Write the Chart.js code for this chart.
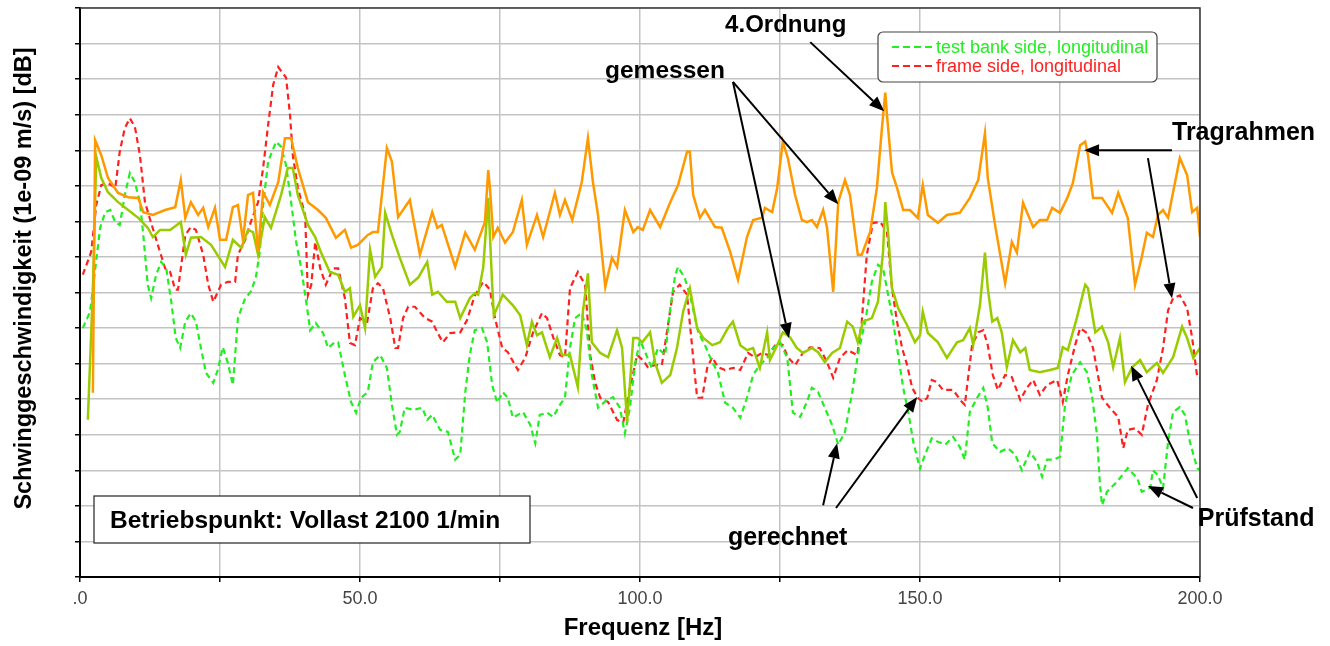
<!DOCTYPE html>
<html>
<head>
<meta charset="utf-8">
<script src="https://cdn.jsdelivr.net/npm/chart.js@4.4.1/dist/chart.umd.min.js"></script>
<style>
  html, body { margin: 0; padding: 0; background: #fff; }
  #wrap { width: 1330px; height: 646px; position: relative; }
</style>
</head>
<body>
<div id="wrap"><canvas id="chart"></canvas></div>
<script>
// ---- Tragrahmen, gemessen (orange) ----
const freqTragrahmen = [2.3, 2.7, 3.8, 5.0, 6.8, 8.6, 10.4, 11.3, 13.0, 15.2,
  17.0, 18.0, 18.8, 19.8, 21.1, 22.0, 22.9, 24.1, 25.0, 26.1,
  27.3, 28.2, 29.1, 30.0, 30.9, 31.8, 32.7, 33.9, 35.4, 36.6,
  37.7, 38.9, 40.7, 42.5, 43.9, 45.7, 47.3, 48.4, 49.6, 51.4,
  52.3, 53.2, 54.8, 55.7, 56.8, 58.9, 60.7, 62.9, 63.8, 64.6,
  67.0, 68.8, 70.5, 72.3, 72.9, 73.2, 73.8, 74.6, 75.9, 77.3,
  78.9, 79.8, 81.6, 82.7, 84.8, 85.7, 86.6, 87.9, 89.6, 90.7,
  91.6, 92.5, 93.8, 95.0, 95.9, 97.3, 98.8, 99.6, 100.5, 101.8,
  103.6, 105.4, 106.8, 108.4, 108.9, 109.5, 110.7, 111.6, 113.4, 114.6,
  116.1, 117.5, 119.1, 120.2, 121.8, 122.3, 123.6, 124.5, 125.5, 126.4,
  127.7, 128.9, 129.8, 130.7, 131.6, 132.7, 133.4, 134.5, 135.4, 136.6,
  137.5, 138.9, 139.6, 141.1, 142.3, 143.2, 143.8, 144.1, 145.0, 145.9,
  147.0, 148.2, 149.6, 150.5, 151.4, 153.2, 154.8, 157.1, 158.9, 160.4,
  161.6, 162.1, 163.4, 165.2, 166.4, 167.3, 168.4, 170.2, 171.4, 172.7,
  173.6, 175.0, 176.3, 177.3, 178.6, 179.5, 180.0, 180.9, 182.5, 184.3,
  185.4, 187.1, 188.4, 189.6, 190.5, 191.6, 192.5, 193.4, 194.3, 196.4,
  197.7, 198.6, 199.5, 200];
const levelTragrahmen = [25.9, 61.4, 59.3, 56.1, 54.0, 53.4, 53.3, 51.3, 50.9, 51.6,
  52.0, 55.8, 50.5, 52.7, 50.9, 51.9, 49.2, 51.9, 47.4, 47.4,
  52.0, 52.3, 47.4, 53.7, 54.0, 45.7, 54.1, 52.3, 55.5, 61.7,
  61.7, 57.5, 52.7, 51.6, 50.5, 47.7, 48.8, 46.3, 46.7, 48.1,
  48.5, 48.5, 60.3, 58.4, 50.6, 53.0, 45.3, 51.3, 49.1, 49.5,
  43.6, 48.4, 46.0, 49.9, 57.2, 54.7, 47.8, 49.1, 47.0, 48.5,
  53.0, 46.7, 50.9, 47.8, 54.0, 50.9, 53.0, 50.2, 55.5, 61.7,
  55.5, 50.9, 40.8, 44.9, 43.6, 51.6, 48.5, 49.2, 48.8, 51.6,
  49.2, 52.7, 55.1, 59.8, 59.8, 53.7, 50.5, 51.6, 49.2, 49.1,
  45.7, 41.8, 47.8, 50.2, 50.5, 51.9, 51.3, 54.7, 61.2, 58.9,
  53.7, 50.2, 49.9, 50.2, 49.2, 51.6, 49.1, 40.1, 52.7, 55.8,
  53.7, 45.3, 45.3, 48.5, 54.7, 63.1, 68.1, 65.0, 56.9, 54.7,
  51.6, 51.6, 50.5, 55.1, 50.9, 49.8, 50.9, 51.2, 53.3, 55.8,
  62.4, 56.1, 49.5, 41.3, 47.1, 45.6, 52.6, 49.2, 50.2, 50.2,
  51.9, 51.2, 53.3, 55.4, 60.7, 61.2, 59.3, 53.3, 53.3, 51.2,
  54.0, 50.5, 41.1, 45.0, 48.4, 47.8, 50.9, 51.6, 50.5, 58.9,
  56.5, 51.3, 51.9, 47.8];

// ---- Pruefstand, gemessen (olive) ----
const freqPruefstand = [1.4, 2.0, 2.3, 2.7, 2.9, 3.8, 5.0, 6.8, 8.6, 10.4,
  12.1, 13.0, 14.3, 16.1, 18.0, 18.9, 19.8, 21.6, 23.4, 25.9,
  27.3, 28.8, 30.0, 30.9, 31.8, 33.0, 34.1, 35.9, 37.1, 38.0,
  38.9, 40.7, 42.0, 43.0, 44.6, 46.1, 47.3, 48.2, 48.8, 50.0,
  50.9, 51.8, 52.7, 53.9, 54.5, 55.7, 57.1, 58.9, 60.4, 62.0,
  62.9, 63.9, 65.5, 67.0, 67.9, 69.6, 70.5, 71.1, 72.0, 72.9,
  73.6, 73.9, 75.5, 77.3, 78.6, 79.8, 80.7, 81.6, 82.5, 83.9,
  85.2, 86.1, 87.5, 88.9, 89.8, 90.7, 91.4, 92.9, 94.3, 95.9,
  96.8, 97.7, 98.8, 99.6, 100.4, 101.8, 102.7, 103.9, 105.4, 106.6,
  107.7, 108.9, 110.2, 111.3, 112.9, 114.3, 115.7, 116.6, 117.9, 119.1,
  120.2, 121.4, 122.7, 123.2, 124.5, 125.5, 126.8, 128.0, 129.1, 130.7,
  131.8, 133.0, 134.3, 135.7, 137.0, 138.0, 138.9, 139.8, 141.4, 142.5,
  143.4, 143.8, 144.3, 145.0, 146.1, 147.7, 149.1, 150.0, 150.5, 151.4,
  153.2, 154.8, 156.6, 157.7, 158.9, 159.5, 160.7, 161.6, 162.1, 162.9,
  163.8, 164.6, 165.5, 166.6, 167.9, 168.8, 169.6, 171.4, 173.2, 174.6,
  175.5, 176.4, 178.0, 179.5, 180.0, 181.3, 182.5, 183.6, 184.5, 185.7,
  186.6, 187.9, 189.3, 190.5, 192.3, 193.4, 195.2, 196.8, 197.7, 198.8,
  200];
const levelPruefstand = [22.1, 34.4, 40.6, 52.7, 59.1, 56.1, 54.1, 52.7, 51.6, 50.5,
  49.1, 47.8, 48.8, 48.8, 49.9, 45.3, 47.7, 47.8, 46.7, 43.6,
  47.4, 46.3, 48.8, 48.5, 45.3, 50.6, 49.1, 53.7, 57.5, 57.5,
  53.7, 49.5, 47.8, 45.7, 42.9, 42.5, 40.1, 40.6, 36.6, 38.2,
  35.0, 46.0, 42.2, 43.6, 51.2, 48.1, 44.9, 41.1, 42.1, 44.3,
  39.7, 40.1, 38.7, 38.7, 36.4, 39.2, 39.9, 39.7, 43.5, 53.3,
  41.1, 36.8, 39.7, 38.2, 36.8, 32.6, 35.9, 34.0, 34.4, 30.9,
  33.6, 31.2, 31.2, 26.7, 37.3, 42.7, 33.0, 31.5, 30.9, 34.7,
  32.2, 21.8, 33.6, 33.6, 33.0, 34.4, 30.1, 27.3, 28.4, 32.2,
  37.3, 40.6, 35.0, 33.6, 32.6, 33.0, 35.0, 35.9, 32.6, 31.9,
  32.2, 29.4, 34.4, 30.5, 32.6, 34.4, 33.7, 32.2, 31.5, 32.2,
  31.6, 30.2, 31.5, 32.2, 35.9, 35.2, 33.0, 35.9, 36.4, 38.7,
  45.7, 52.7, 48.5, 40.6, 37.8, 35.4, 33.0, 34.0, 37.3, 34.3,
  33.0, 30.8, 33.0, 33.3, 35.0, 32.6, 38.2, 45.6, 40.6, 35.9,
  36.4, 34.4, 29.5, 33.3, 31.6, 32.2, 29.1, 28.8, 29.1, 29.4,
  32.3, 31.9, 36.4, 41.1, 40.6, 34.4, 35.2, 33.0, 29.5, 33.6,
  27.4, 29.5, 30.5, 28.8, 30.1, 28.7, 30.9, 35.2, 33.6, 30.8,
  32.2];

// ---- frame side, longitudinal (gerechnet, red dashed) ----
const freqFrame = [0.5, 2.0, 2.9, 3.8, 5.0, 6.3, 7.1, 8.0, 8.9, 9.8,
  10.7, 11.6, 12.7, 13.9, 15.2, 16.1, 17.0, 17.5, 18.8, 19.8,
  20.7, 22.0, 22.9, 23.8, 25.2, 26.4, 27.7, 28.2, 29.5, 30.5,
  31.8, 32.7, 33.6, 34.5, 35.4, 36.8, 37.5, 38.0, 38.9, 40.2,
  40.7, 41.3, 42.0, 42.9, 43.9, 45.2, 46.1, 47.3, 48.2, 49.1,
  50.0, 51.3, 52.3, 53.2, 54.1, 55.4, 56.3, 56.8, 57.7, 58.6,
  59.8, 61.6, 62.9, 63.8, 64.8, 66.1, 67.9, 69.1, 70.5, 72.0,
  73.2, 74.1, 75.4, 76.4, 78.2, 79.5, 80.9, 82.5, 83.4, 84.5,
  85.7, 86.6, 87.5, 88.9, 90.2, 91.1, 92.0, 92.9, 94.3, 95.9,
  97.0, 98.2, 99.5, 100.5, 101.4, 102.7, 103.9, 105.0, 105.9, 107.1,
  108.4, 109.5, 110.2, 111.1, 112.0, 112.9, 113.9, 115.2, 116.6, 117.9,
  119.3, 120.5, 121.8, 122.9, 124.5, 125.5, 126.4, 127.7, 129.1, 130.4,
  132.1, 133.4, 134.5, 135.7, 137.1, 138.8, 139.6, 140.5, 141.6, 142.9,
  144.1, 145.0, 145.9, 146.8, 147.7, 148.6, 149.6, 150.5, 151.3, 152.1,
  153.0, 154.1, 155.9, 157.5, 158.0, 159.3, 160.4, 161.3, 162.1, 163.0,
  163.9, 165.2, 166.4, 167.9, 169.1, 170.2, 171.4, 172.7, 174.5, 175.5,
  176.4, 177.7, 178.6, 179.8, 180.9, 182.5, 183.9, 185.4, 186.3, 187.1,
  188.4, 189.6, 190.7, 192.3, 193.4, 194.3, 195.2, 196.4, 197.7, 198.6,
  199.5, 200];
const levelFrame = [42.5, 45.7, 52.3, 55.1, 55.4, 54.7, 59.8, 63.1, 64.5, 63.3,
  59.3, 52.7, 49.8, 46.7, 43.4, 42.9, 40.4, 40.4, 48.1, 49.2,
  48.8, 45.3, 41.1, 38.7, 41.1, 41.5, 41.5, 45.3, 47.4, 49.9,
  52.7, 57.5, 63.6, 69.2, 71.7, 70.2, 65.0, 59.3, 54.7, 50.9,
  39.6, 41.1, 47.1, 43.4, 41.1, 43.4, 43.4, 39.2, 32.9, 32.6,
  36.4, 35.9, 40.6, 41.3, 40.6, 36.4, 32.2, 32.2, 36.4, 38.0,
  38.0, 36.4, 35.9, 34.4, 33.0, 34.3, 34.4, 36.1, 39.6, 41.5,
  40.4, 36.4, 32.2, 31.6, 29.1, 30.8, 34.4, 37.1, 36.4, 33.7,
  31.2, 30.9, 40.6, 42.9, 41.1, 31.2, 27.3, 25.2, 24.6, 22.1,
  21.7, 26.6, 31.2, 30.5, 29.5, 29.8, 29.8, 35.4, 40.1, 41.1,
  39.7, 30.8, 25.2, 25.2, 29.4, 30.9, 29.5, 29.1, 29.4, 29.1,
  31.5, 30.9, 31.5, 31.2, 33.0, 32.6, 30.9, 29.8, 31.5, 32.3,
  32.2, 30.2, 28.0, 30.8, 31.9, 31.2, 35.9, 45.3, 49.8, 49.9,
  48.5, 40.6, 35.9, 32.2, 29.8, 26.6, 25.2, 24.6, 25.2, 27.7,
  27.4, 26.3, 26.3, 24.6, 24.2, 32.6, 34.4, 34.7, 32.6, 28.4,
  26.3, 28.4, 28.1, 24.9, 26.6, 27.7, 25.6, 27.0, 27.7, 24.6,
  28.4, 32.6, 35.0, 34.3, 32.2, 25.2, 23.8, 22.5, 18.1, 20.7,
  20.9, 20.0, 24.2, 27.7, 32.2, 37.5, 39.2, 39.6, 37.8, 33.6,
  28.1, 28.0];

// ---- test bank side, longitudinal (gerechnet, green dashed) ----
const freqTestBank = [0.5, 1.8, 2.3, 3.6, 4.5, 5.4, 6.3, 7.1, 8.0, 8.9,
  9.8, 10.7, 11.3, 12.1, 12.7, 13.6, 14.5, 15.4, 16.3, 17.1,
  17.9, 18.8, 19.8, 20.7, 21.6, 22.5, 23.8, 24.6, 25.5, 26.4,
  27.3, 28.2, 29.5, 30.5, 31.4, 32.1, 32.7, 33.6, 35.0, 35.9,
  36.8, 37.7, 38.6, 39.5, 40.4, 41.1, 42.1, 43.4, 44.3, 45.5,
  46.1, 47.3, 48.4, 49.3, 50.2, 51.4, 52.3, 53.6, 54.8, 55.7,
  56.6, 57.1, 58.0, 59.5, 61.1, 62.0, 62.9, 64.3, 65.7, 67.0,
  67.9, 68.8, 69.6, 70.5, 71.8, 72.7, 73.6, 74.5, 75.5, 76.4,
  77.3, 79.1, 80.4, 81.3, 82.1, 83.4, 84.5, 85.7, 86.6, 87.5,
  88.4, 89.6, 90.5, 91.4, 92.5, 94.1, 95.2, 96.4, 97.3, 98.2,
  99.1, 100.0, 101.3, 102.1, 103.2, 104.5, 105.4, 106.3, 106.8, 108.0,
  108.9, 110.4, 111.6, 112.9, 113.9, 115.2, 116.6, 117.9, 119.1, 120.2,
  121.4, 122.7, 123.8, 125.0, 126.3, 127.3, 128.6, 129.8, 130.7, 131.8,
  133.0, 134.3, 135.4, 136.6, 137.9, 138.9, 140.2, 141.4, 142.5, 143.4,
  144.3, 145.2, 146.1, 147.0, 147.9, 148.8, 150.0, 150.9, 152.1, 153.2,
  154.5, 155.9, 157.1, 158.0, 158.9, 160.2, 161.3, 162.1, 162.9, 164.3,
  165.7, 167.0, 168.2, 169.6, 170.9, 171.8, 172.7, 173.8, 175.0, 175.9,
  177.1, 178.6, 179.8, 180.7, 181.6, 182.1, 182.5, 183.4, 185.2, 187.1,
  188.8, 189.6, 191.1, 191.6, 192.5, 193.4, 194.3, 195.2, 196.4, 197.3,
  198.2, 199.5, 200];
const levelTestBank = [35.0, 37.3, 40.6, 49.1, 51.3, 51.6, 49.9, 49.5, 53.7, 56.8,
  55.5, 52.7, 48.1, 41.1, 39.2, 42.5, 44.3, 43.4, 38.7, 33.6,
  32.2, 35.9, 37.1, 35.9, 32.2, 28.7, 27.3, 29.1, 32.3, 30.1,
  27.0, 36.4, 39.2, 40.1, 42.1, 45.7, 52.3, 58.4, 61.2, 60.5,
  57.9, 52.7, 47.1, 43.4, 38.7, 34.7, 35.7, 34.3, 32.2, 33.0,
  33.0, 28.4, 24.6, 23.1, 25.2, 26.0, 30.2, 31.2, 29.4, 24.2,
  20.0, 20.4, 23.8, 23.5, 23.8, 22.1, 22.8, 20.7, 20.4, 16.5,
  17.2, 26.0, 31.2, 34.7, 35.0, 33.0, 27.0, 24.5, 26.0, 25.2,
  22.4, 23.2, 21.4, 18.8, 22.8, 23.1, 22.5, 24.2, 25.2, 32.2,
  36.4, 37.1, 34.7, 28.4, 23.8, 24.9, 25.3, 23.8, 20.2, 23.8,
  29.8, 33.3, 30.9, 29.4, 32.2, 31.2, 37.8, 42.5, 43.6, 42.0,
  39.7, 34.4, 32.6, 30.2, 28.8, 24.5, 23.8, 22.4, 25.2, 28.4,
  29.8, 30.8, 32.2, 33.0, 30.8, 23.1, 22.5, 24.6, 26.6, 26.0,
  23.8, 21.4, 18.6, 20.4, 26.0, 31.2, 35.9, 41.5, 43.9, 43.4,
  39.7, 35.9, 31.2, 26.6, 23.2, 19.0, 15.2, 17.2, 19.5, 19.0,
  18.6, 19.7, 18.3, 16.5, 23.2, 25.2, 26.6, 23.8, 18.8, 17.6,
  18.1, 17.2, 15.0, 17.6, 16.2, 14.1, 16.5, 16.5, 16.9, 24.2,
  28.4, 30.2, 28.8, 25.6, 20.0, 13.4, 10.1, 12.0, 13.4, 15.3,
  13.9, 12.0, 12.5, 15.0, 14.3, 12.5, 19.0, 23.2, 23.9, 22.8,
  19.0, 15.3, 15.0];

const seriesNames = ["Tragrahmen, gemessen", "Prüfstand, gemessen",
  "test bank side, longitudinal", "frame side, longitudinal"];
const xTickLabels = [".0", "50.0", "100.0", "150.0", "200.0"];

// Beschriftungen (Frequenz, Pegel)
const notes = [
  { text: "4.Ordnung", f: 115.2, db: 77.6, size: 24 },
  { text: "gemessen", f: 93.75, db: 71.1, size: 24.5 },
  { text: "gerechnet", f: 115.7, db: 5.5, size: 25 },
  { text: "Tragrahmen", f: 195.0, db: 62.4, size: 25 },
  { text: "Prüfstand", f: 199.6, db: 8.2, size: 25 }
];
const arrows = [
  [130.4, 75.2, 143.6, 65.5],
  [116.6, 69.6, 135.4, 52.4],
  [116.6, 69.6, 126.6, 33.6],
  [132.7, 10.1, 135.2, 18.8],
  [135.0, 9.7, 149.5, 25.3],
  [195.0, 60.0, 179.3, 60.0],
  [190.7, 58.9, 195.0, 39.2],
  [199.5, 11.1, 187.7, 29.7],
  [198.75, 9.7, 190.7, 12.8]
];

function points(freq, level) {
  return freq.map((f, i) => ({ x: f, y: level[i] }));
}

function drawArrow(ctx, x1, y1, x2, y2) {
  const ang = Math.atan2(y2 - y1, x2 - x1);
  const len = 15, w = 6;
  const bx = x2 - len * Math.cos(ang), by = y2 - len * Math.sin(ang);
  ctx.beginPath();
  ctx.moveTo(x1, y1);
  ctx.lineTo(bx, by);
  ctx.stroke();
  ctx.beginPath();
  ctx.moveTo(x2, y2);
  ctx.lineTo(bx + w * Math.sin(ang), by - w * Math.cos(ang));
  ctx.lineTo(bx - w * Math.sin(ang), by + w * Math.cos(ang));
  ctx.closePath();
  ctx.fill();
}

const labelFont = '"Liberation Sans", Arial, sans-serif';

const decorPlugin = {
  id: "decor",
  afterDraw(chart) {
    const { ctx, chartArea: a, scales: { x, y } } = chart;
    ctx.save();

    // Rahmen oben / rechts
    ctx.strokeStyle = "#3a3a3a";
    ctx.lineWidth = 1.5;
    ctx.beginPath();
    ctx.moveTo(a.left, a.top);
    ctx.lineTo(a.right, a.top);
    ctx.lineTo(a.right, a.bottom);
    ctx.stroke();

    // Legende
    const lx = a.left + 798, ly = a.top + 24;
    ctx.beginPath();
    ctx.roundRect(lx, ly, 279, 50, 5);
    ctx.fillStyle = "#fff";
    ctx.fill();
    ctx.strokeStyle = "#444";
    ctx.lineWidth = 1.2;
    ctx.stroke();
    const legendItems = [
      { name: seriesNames[2], color: "#22ee22", dy: 15 },
      { name: seriesNames[3], color: "#ff2020", dy: 34 }
    ];
    legendItems.forEach(item => {
      ctx.strokeStyle = item.color;
      ctx.lineWidth = 2;
      ctx.setLineDash([7, 4]);
      ctx.beginPath();
      ctx.moveTo(lx + 14, ly + item.dy);
      ctx.lineTo(lx + 57, ly + item.dy);
      ctx.stroke();
      ctx.setLineDash([]);
      ctx.fillStyle = item.color;
      ctx.font = "18px " + labelFont;
      ctx.textAlign = "left";
      ctx.textBaseline = "middle";
      ctx.fillText(item.name, lx + 58, ly + item.dy + 1);
    });

    // Betriebspunkt
    ctx.fillStyle = "#fff";
    ctx.fillRect(a.left + 14, a.bottom - 81, 436, 47);
    ctx.strokeStyle = "#222";
    ctx.lineWidth = 1.2;
    ctx.strokeRect(a.left + 14, a.bottom - 81, 436, 47);
    ctx.fillStyle = "#000";
    ctx.font = "bold 24.5px " + labelFont;
    ctx.textAlign = "left";
    ctx.textBaseline = "middle";
    ctx.fillText("Betriebspunkt: Vollast 2100 1/min", a.left + 30, a.bottom - 56);

    // Pfeile und Texte
    ctx.strokeStyle = "#000";
    ctx.fillStyle = "#000";
    ctx.lineWidth = 2;
    arrows.forEach(p => drawArrow(ctx,
      x.getPixelForValue(p[0]), y.getPixelForValue(p[1]),
      x.getPixelForValue(p[2]), y.getPixelForValue(p[3])));
    notes.forEach(n => {
      ctx.font = "bold " + n.size + "px " + labelFont;
      ctx.fillText(n.text, x.getPixelForValue(n.f), y.getPixelForValue(n.db));
    });

    // Achsentitel
    ctx.font = "bold 24px " + labelFont;
    ctx.textAlign = "center";
    ctx.fillText("Frequenz [Hz]", (a.left + a.right) / 2 + 3, a.bottom + 51);
    ctx.font = "bold 23.5px " + labelFont;
    ctx.translate(a.left - 55, (a.top + a.bottom) / 2 - 14);
    ctx.rotate(-Math.PI / 2);
    ctx.fillText("Schwinggeschwindigkeit (1e-09 m/s) [dB]", 0, 0);
    ctx.restore();
  }
};

const gridStyle = { color: "#c3c3c3", lineWidth: 1.5, tickLength: 5, tickColor: "#000", tickWidth: 1.5 };

new Chart(document.getElementById("chart"), {
  type: "line",
  data: {
    datasets: [
      { label: seriesNames[0], data: points(freqTragrahmen, levelTragrahmen),
        borderColor: "#ff9900", borderWidth: 2.5 },
      { label: seriesNames[1], data: points(freqPruefstand, levelPruefstand),
        borderColor: "#99cc00", borderWidth: 2.5 },
      { label: seriesNames[2], data: points(freqTestBank, levelTestBank),
        borderColor: "#22ee22", borderWidth: 2.2, borderDash: [6, 4] },
      { label: seriesNames[3], data: points(freqFrame, levelFrame),
        borderColor: "#ff2020", borderWidth: 2.2, borderDash: [6, 4] }
    ]
  },
  options: {
    responsive: true,
    maintainAspectRatio: false,
    animation: false,
    events: [],
    layout: { padding: { left: 70, top: 8, right: 130, bottom: 29 } },
    elements: { point: { radius: 0 }, line: { tension: 0 } },
    plugins: { legend: { display: false }, tooltip: { enabled: false } },
    scales: {
      x: {
        type: "linear", min: 0, max: 200,
        afterFit(s) { s.height = 40; },
        grid: gridStyle,
        border: { color: "#000", width: 2 },
        ticks: {
          stepSize: 25, autoSkip: false, maxRotation: 0, padding: 6,
          color: "#444", font: { family: labelFont, size: 18 },
          callback(v) { return v % 50 === 0 ? xTickLabels[v / 50] : ""; }
        }
      },
      y: {
        min: 0, max: 80,
        afterFit(s) { s.width = 10; },
        grid: gridStyle,
        border: { color: "#000", width: 2 },
        ticks: { stepSize: 5, display: false }
      }
    }
  },
  plugins: [decorPlugin]
});
</script>
</body>
</html>
